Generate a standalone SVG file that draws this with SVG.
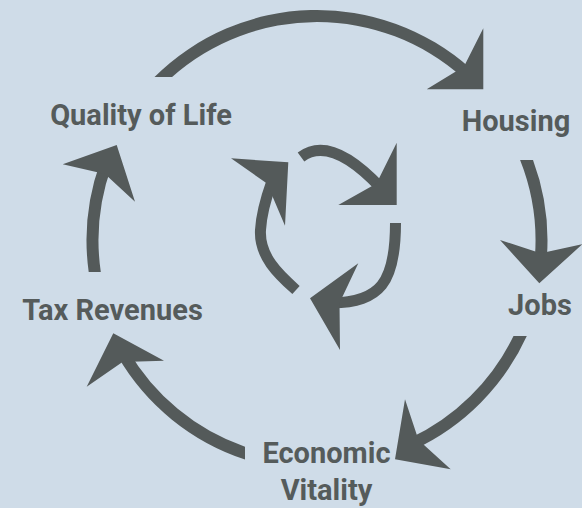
<svg xmlns="http://www.w3.org/2000/svg" width="582" height="508" viewBox="0 0 582 508">
  <style>
    .bg { fill: #cfdce8; }
    .label { font-family: Roboto, "Liberation Sans", sans-serif; font-weight: 700; font-size: 29px; fill: #555b5b; text-anchor: middle; }
    .band, .head { fill: #545a5a; }
    .inner { fill: none; stroke: #545a5a; stroke-width: 11; stroke-linecap: butt; }
  </style>

  <rect class="bg" x="0" y="0" width="582" height="508"/>

  <!-- outer cycle: arc bands (circle centre 317,240.5) and barbed heads -->
  <g id="connectors">
    <g id="quality-to-housing">
      <path class="band" d="M 154.5 77 A 230.5 230.5 0 0 1 470.3 68.3 L 462.3 77.3 A 218.5 218.5 0 0 0 172.1 77 Z"/>
      <polygon class="head" points="483.3,89.3 483.3,28.3 464,66.5 426.7,89.3"/>
    </g>
    <g id="housing-to-jobs">
      <path class="band" d="M 520.1 160 L 533 160 A 230.5 230.5 0 0 1 546.6 260.6 L 534.7 259.6 A 218.5 218.5 0 0 0 520.1 160 Z"/>
      <polygon class="head" points="539.3,283.3 500,240 540.7,253.3 582.6,244"/>
    </g>
    <g id="jobs-to-economic">
      <path class="band" d="M 513.5 336 L 526.8 336 A 230.5 230.5 0 0 1 414.4 449.4 L 409.3 438.5 A 218.5 218.5 0 0 0 513.5 336 Z"/>
      <polygon class="head" points="395,459.3 405,399.3 418.5,440 450.7,469.3"/>
    </g>
    <g id="economic-to-tax">
      <path class="band" d="M 245 459.5 A 230.5 230.5 0 0 1 117.4 355.8 L 127.8 349.8 A 218.5 218.5 0 0 0 245 446.8 Z"/>
      <polygon class="head" points="113.3,333.3 164,360.7 122.5,362 86.7,386.7"/>
    </g>
    <g id="tax-to-quality">
      <path class="band" d="M 88.7 272 A 230.5 230.5 0 0 1 100.4 161.7 L 111.7 165.8 A 218.5 218.5 0 0 0 100.8 272 Z"/>
      <polygon class="head" points="116.7,145 62.7,164.3 105,174 135,201.7"/>
    </g>

    <!-- inner cycle -->
    <g id="inner-top">
      <path class="inner" d="M 301 157 C 326.6 137.8, 359.1 164.7, 381 188"/>
      <polygon class="head" points="396.7,205 396.7,142.7 376.5,183.5 338.3,205"/>
    </g>
    <g id="inner-bottom">
      <path class="inner" d="M 395.5 223 C 395.5 283, 380 302, 332 303"/>
      <polygon class="head" points="310,298.3 358.3,263.3 339.5,303 340,350"/>
    </g>
    <g id="inner-left">
      <path class="inner" d="M 296 290 C 278 274, 259 256, 260.5 230 C 261.5 212, 267 195, 272 181"/>
      <polygon class="head" points="288.3,162.3 231,158.3 267,183.5 285,225.7"/>
    </g>
  </g>

  <!-- labels -->
  <g id="quality-of-life"><text class="label" x="141" y="125">Quality of Life</text></g>
  <g id="housing"><text class="label" x="516" y="131">Housing</text></g>
  <g id="jobs"><text class="label" x="540" y="315">Jobs</text></g>
  <g id="economic-vitality">
    <text class="label" x="326.5" y="463">Economic</text>
    <text class="label" x="326.5" y="500">Vitality</text>
  </g>
  <g id="tax-revenues"><text class="label" x="112.5" y="320">Tax Revenues</text></g>
</svg>
